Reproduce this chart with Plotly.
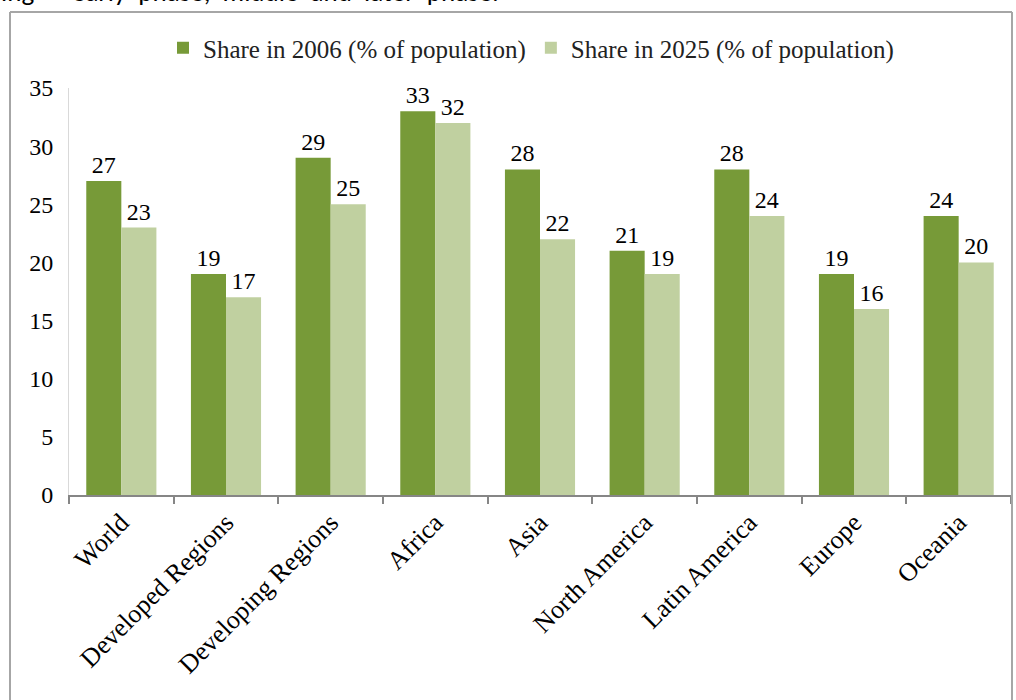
import plotly.graph_objects as go

categories = ["World", "Developed Regions", "Developing Regions", "Africa", "Asia",
              "North America", "Latin America", "Europe", "Oceania"]
share_2006 = [27, 19, 29, 33, 28, 21, 28, 19, 24]
share_2025 = [23, 17, 25, 32, 22, 19, 24, 16, 20]
y_ticks = [0, 5, 10, 15, 20, 25, 30, 35]

W, H = 1016, 700
ml, mr, mt, mb = 69, 5, 88, 205
pw = W - ml - mr
ph = H - mt - mb

def px_x(x):
    return (x - ml) / pw

def px_y(y):
    return (H - mb - y) / ph

font_serif = "Liberation Serif, Times New Roman, serif"

fig = go.Figure()
fig.add_trace(go.Bar(
    name="Share in 2006 (% of population)", x=categories, y=share_2006,
    marker=dict(color="#779a38", line=dict(width=0)),
    text=share_2006, textposition="outside", cliponaxis=False,
    textfont=dict(family=font_serif, size=24, color="#000000"),
))
fig.add_trace(go.Bar(
    name="Share in 2025 (% of population)", x=categories, y=share_2025,
    marker=dict(color="#c0d0a0", line=dict(width=0)),
    text=share_2025, textposition="outside", cliponaxis=False,
    textfont=dict(family=font_serif, size=24, color="#000000"),
))

shapes = [
    dict(type="line", xref="paper", yref="paper", x0=px_x(10), x1=px_x(10), y0=px_y(12), y1=px_y(H + 5),
         line=dict(color="#a6a6a6", width=2)),
    dict(type="line", xref="paper", yref="paper", x0=px_x(10), x1=px_x(1012), y0=px_y(12), y1=px_y(12),
         line=dict(color="#a6a6a6", width=2)),
    dict(type="line", xref="paper", yref="paper", x0=px_x(1012), x1=px_x(1012), y0=px_y(12), y1=px_y(H + 5),
         line=dict(color="#a6a6a6", width=2)),
]

fig.update_layout(
    width=W, height=H,
    margin=dict(l=ml, r=mr, t=mt, b=mb),
    paper_bgcolor="white", plot_bgcolor="white",
    barmode="group", bargap=0.33, bargroupgap=0,
    font=dict(family=font_serif, size=24, color="#000000"),
    legend=dict(orientation="h", x=px_x(531), xanchor="center", y=px_y(48), yanchor="middle",
                font=dict(family=font_serif, size=25, color="#222222"),
                itemwidth=30, traceorder="normal"),
    shapes=shapes,
    annotations=[dict(text="ing  \u2013  early  phase,  middle  and  later  phase.", xref="paper", yref="paper",
                      x=px_x(-1), y=px_y(10.5), xanchor="left", yanchor="bottom", showarrow=False,
                      font=dict(family="Carlito, Liberation Sans, sans-serif", size=27, color="#000000"))],
    showlegend=True,
)
fig.update_xaxes(
    showline=True, linecolor="#868686", linewidth=2,
    ticks="outside", tickson="boundaries", ticklen=7, tickcolor="#868686", tickwidth=2,
    tickangle=-45, tickfont=dict(family=font_serif, size=26, color="#000000"),
    showgrid=False,
)
fig.update_yaxes(
    range=[0, 35], tickvals=y_ticks, showgrid=False, zeroline=False,
    showline=True, linecolor="#d9d9d9", linewidth=1, ticks="", ticklabelstandoff=10,
    tickfont=dict(family=font_serif, size=24, color="#000000"),
)

fig.write_html("out.html", config={"displayModeBar": False},
               post_script="document.body.style.margin='0';document.body.style.overflow='hidden';")
